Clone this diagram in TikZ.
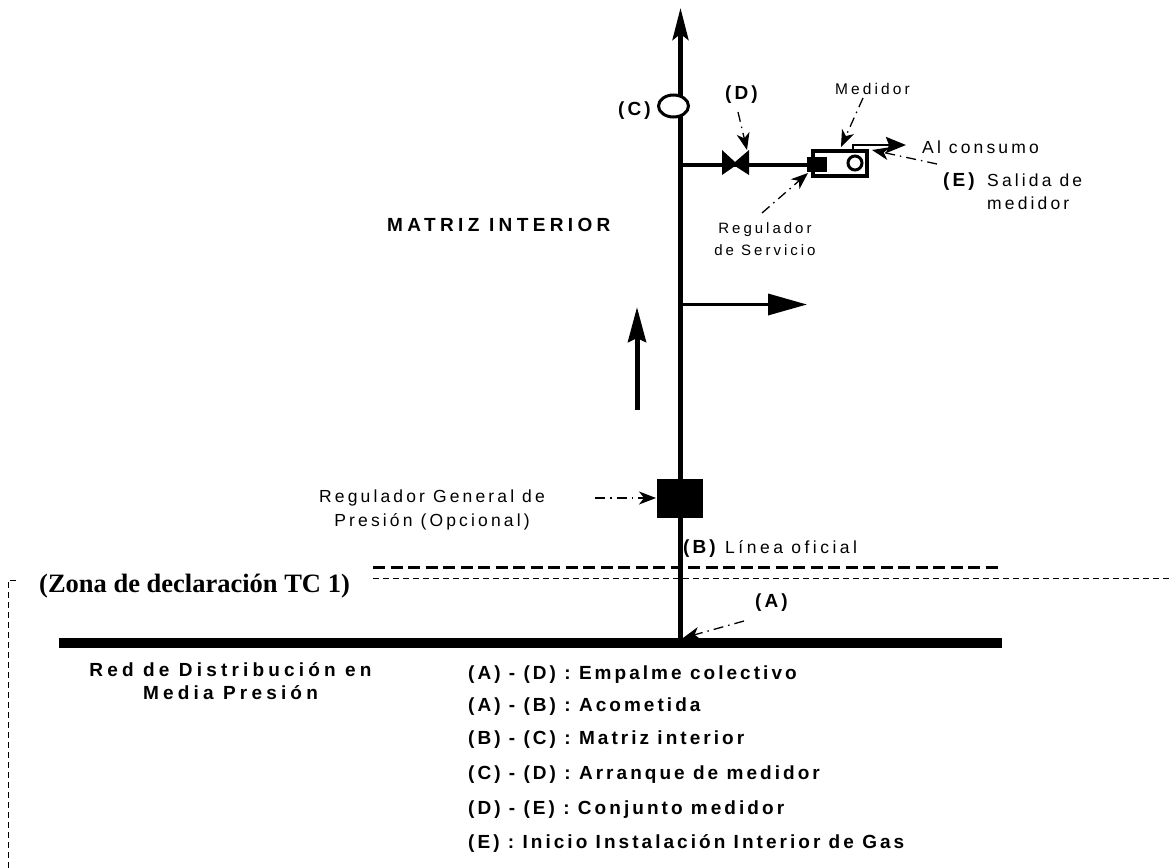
\documentclass[tikz,border=0pt]{standalone}
\usepackage{fontspec}
\setmainfont{Liberation Sans}
\newfontfamily\lab{Liberation Sans}
\newfontfamily\tim{Liberation Serif}
\usetikzlibrary{arrows.meta,shapes.geometric}
\tikzset{
  x=1pt,y=-1pt,
  txt/.style={inner sep=0pt,anchor=base west,font=\lab\addfontfeature{LetterSpace=18}\fontsize{17.5}{20}\selectfont},
  txts/.style={inner sep=0pt,anchor=base west,font=\lab\addfontfeature{LetterSpace=20}\fontsize{15.5}{20}\selectfont},
  txtb/.style={inner sep=0pt,anchor=base west,font=\lab\addfontfeature{LetterSpace=16}\bfseries\fontsize{19}{20}\selectfont},
  pipe/.style={line width=4.5pt},
  leader/.style={line width=1.3pt,dash pattern=on 10pt off 5pt on 1.5pt off 5pt,-{Stealth[length=17pt,width=13pt,inset=5pt]}},
}
\begin{document}
\begin{tikzpicture}
\useasboundingbox (0,0) rectangle (1171,868);
% named points
\coordinate (netL) at (59,643);
\coordinate (netR) at (1002,643);
\coordinate (join) at (680.5,643);
\coordinate (top) at (680.5,8);
\coordinate (brA) at (680.5,165);
\coordinate (brB) at (680.5,304.5);
\coordinate (brBend) at (807,304.5);
\coordinate (upS) at (637,410);
\coordinate (upE) at (637,307);
\coordinate (lineL) at (373,567);
\coordinate (lineR) at (1002,567);
\coordinate (zoneL) at (373,578);
\coordinate (zoneR) at (1171,578);
\coordinate (zoneA) at (8,868);
\coordinate (zoneB) at (8,580);
\coordinate (zoneC) at (19,580);
% network and pipes
\draw[line width=10pt] (netL) -- (netR);
\draw[pipe] (join) -- (680.5,35);
\draw[line width=4.5pt,-{Stealth[length=32pt,width=16pt,inset=6pt]}] (680.5,40) -- (top);
\draw[pipe] (brA) -- (812,165);
\draw[line width=3.5pt,-{Triangle[length=39pt,width=21pt]}] (brB) -- (brBend);
\draw[line width=5pt,-{Stealth[length=35pt,width=18pt,inset=4pt]}] (upS) -- (upE);
% dashed lines
\draw[line width=3pt,dash pattern=on 12pt off 5.5pt] (lineL) -- (lineR);
\draw[line width=1pt,dash pattern=on 6pt off 4pt] (zoneL) -- (zoneR);
\draw[line width=1pt,dash pattern=on 6pt off 4pt] (zoneA) -- (zoneB) -- (zoneC);
% devices
\node[draw,fill=white,line width=3pt,ellipse,minimum width=30pt,minimum height=22pt,inner sep=0pt] (cc) at (673.5,106) {};
\node[fill=black,minimum width=46pt,minimum height=39pt,inner sep=0pt] (reg) at (680,498.5) {};
\fill (722,150) -- (735,162) -- (749,150) -- (749,175) -- (735,166) -- (722,175) -- cycle;
\node[draw,line width=4pt,minimum width=54pt,minimum height=25pt,inner sep=0pt] (meter) at (840,163.5) {};
\node[fill=black,minimum width=20pt,minimum height=15pt,inner sep=0pt] (sreg) at (817,164.5) {};
\node[draw,line width=3pt,circle,minimum size=14pt,inner sep=0pt] (mc) at (855,163) {};
\coordinate (conS) at (853,145);
\coordinate (conE) at (906,145);
\draw[line width=2.5pt,-{Stealth[length=20pt,width=16pt,inset=3pt]}] (conS) -- (conE);
\draw[line width=2.5pt] (853,144) -- (853,150);
% labels
\node[txtb] (labC) at (618,115.5) {(C)};
\node[txtb] (labD) at (725,99.5) {(D)};
\node[txts] (labMed) at (835,94) {Medidor};
\node[txt] (labCon) at (922,153.5) {Al consumo};
\node[txtb] (labE) at (943,186.5) {(E)};
\node[txt] (labSal) at (987,186.5) {Salida de};
\node[txt] (labMe2) at (987,209.5) {medidor};
\node[inner sep=0pt,align=center,font=\lab\addfontfeature{LetterSpace=20}\fontsize{15}{21.5}\selectfont] (labRS) at (765,239) {Regulador\\de Servicio};
\node[inner sep=0pt,anchor=base west,font=\lab\addfontfeature{LetterSpace=23}\bfseries\fontsize{19}{20}\selectfont] (labMI) at (387,231) {MATRIZ INTERIOR};
\node[inner sep=0pt,align=center,font=\lab\addfontfeature{LetterSpace=18}\fontsize{17.5}{24}\selectfont] (labRG) at (432,510) {Regulador General de\\Presión (Opcional)};
\node[txtb] (labB) at (683,553.5) {(B)};
\node[txt,font=\lab\addfontfeature{LetterSpace=20}\fontsize{17.5}{20}\selectfont] (labL) at (725,553.5) {Línea oficial};
\node[inner sep=0pt,anchor=base west,font=\tim\bfseries\fontsize{26.5}{28}\selectfont] (labZ) at (39,592) {(Zona de declaración TC 1)};
\node[txtb] (labA) at (755,607.5) {(A)};
\node[inner sep=0pt,align=center,font=\lab\addfontfeature{LetterSpace=22}\bfseries\fontsize{19}{23}\selectfont] (labRed) at (230.5,681.5) {Red de Distribución en\\Media Presión};
\node[txtb] (l1) at (468,679.5) {(A) - (D) : Empalme colectivo};
\node[txtb] (l2) at (468,711.5) {(A) - (B) : Acometida};
\node[txtb] (l3) at (468,744.5) {(B) - (C) : Matriz interior};
\node[txtb] (l4) at (468,779.5) {(C) - (D) : Arranque de medidor};
\node[txtb] (l5) at (468,814) {(D) - (E) : Conjunto medidor};
\node[txtb] (l6) at (468,848.5) {(E) : Inicio Instalación Interior de Gas};
% leaders
\draw[leader] (738,112) -- (747,150);
\draw[leader] (863,98) -- (841,147);
\draw[leader] (762,213) -- (808,173);
\draw[leader] (937,164) -- (872,150);
\draw[leader] (595,498) -- (656,498);
\draw[leader] (744,621) -- (683,638);
\end{tikzpicture}
\end{document}
